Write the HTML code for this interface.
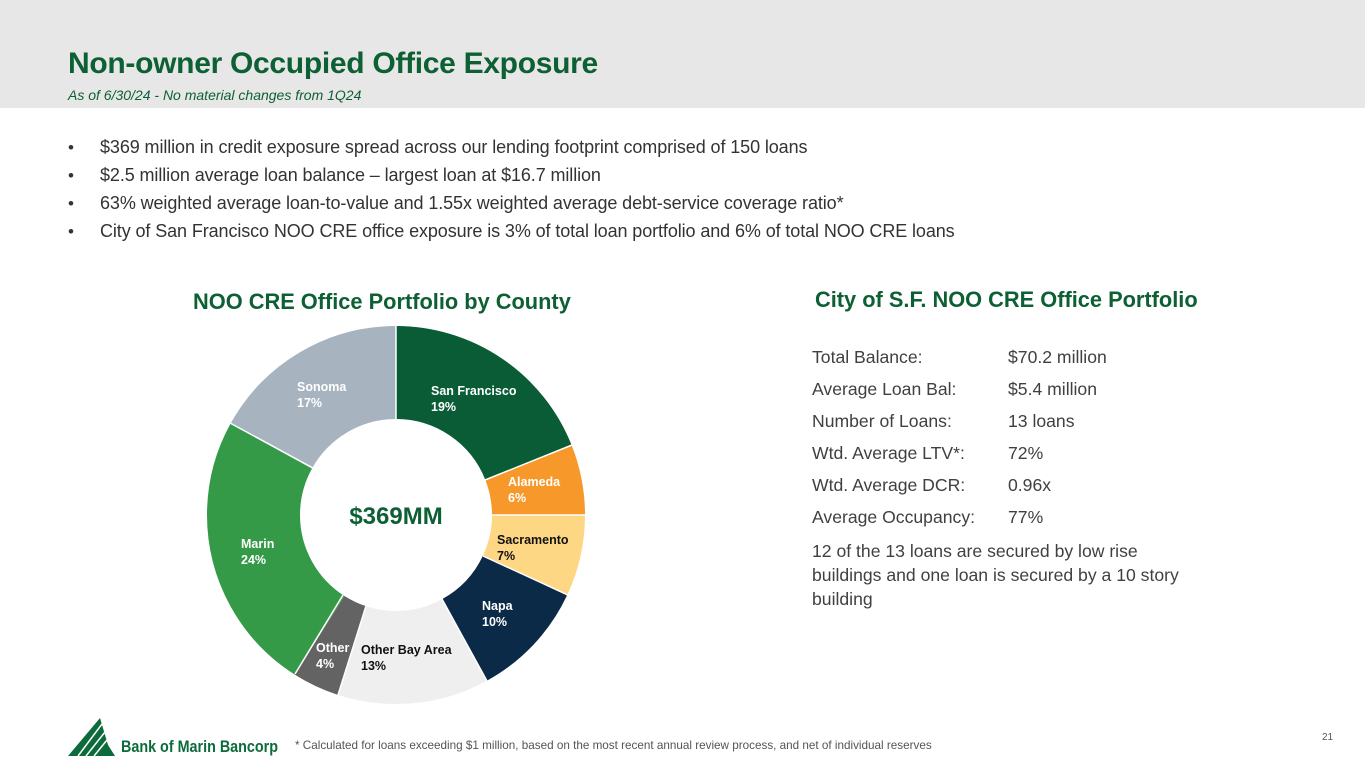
<!DOCTYPE html>
<html><head><meta charset="utf-8"><style>
body{margin:0;width:1365px;height:768px;position:relative;background:#fff;font-family:"Liberation Sans",Calibri,sans-serif;overflow:hidden}
.hdr{position:absolute;left:0;top:0;width:1365px;height:108px;background:#e7e7e7}
.t{position:absolute;left:68px;top:47px;font-size:30px;font-weight:bold;color:#0d5f34;letter-spacing:-0.3px}
.s{position:absolute;left:68px;top:87px;font-size:14px;font-style:italic;color:#0d5f34}
.b{position:absolute;left:68px;font-size:17px;color:#333;white-space:nowrap}
.b span{display:inline-block;width:32px}
.b i{font-style:normal;display:inline-block;font-size:18px;letter-spacing:-0.1px}
.h{position:absolute;font-size:21.8px;font-weight:bold;color:#0d5f34;white-space:nowrap}
.r{position:absolute;left:812px;font-size:17.6px;color:#404040;white-space:nowrap}
.r .v{position:absolute;left:196px;white-space:nowrap}
.lbl{position:absolute;font-size:12.5px;font-weight:bold;line-height:16px;color:#fff}
</style></head><body>
<div class="hdr"></div>
<div class="t">Non-owner Occupied Office Exposure</div>
<div class="s">As of 6/30/24 - No material changes from 1Q24</div>
<div class="b" style="top:137px"><span>•</span><i>$369 million in credit exposure spread across our lending footprint comprised of 150 loans</i></div>
<div class="b" style="top:165px"><span>•</span><i>$2.5 million average loan balance – largest loan at $16.7 million</i></div>
<div class="b" style="top:193px"><span>•</span><i>63% weighted average loan-to-value and 1.55x weighted average debt-service coverage ratio*</i></div>
<div class="b" style="top:221px"><span>•</span><i>City of San Francisco NOO CRE office exposure is 3% of total loan portfolio and 6% of total NOO CRE loans</i></div>
<div class="h" style="left:193px;top:289px">NOO CRE Office Portfolio by County</div>
<div class="h" style="left:815px;top:287px">City of S.F. NOO CRE Office Portfolio</div>
<svg style="position:absolute;left:0;top:0" width="1365" height="768">
<g transform="rotate(-90 396 515)" fill="none" stroke-width="93">
<circle cx="396" cy="515" r="142.5" stroke="#0a5c36" stroke-dasharray="170.1 1000" stroke-dashoffset="0"/>
<circle cx="396" cy="515" r="142.5" stroke="#f7982a" stroke-dasharray="53.7 1000" stroke-dashoffset="-170.1"/>
<circle cx="396" cy="515" r="142.5" stroke="#fdd783" stroke-dasharray="62.7 1000" stroke-dashoffset="-223.8"/>
<circle cx="396" cy="515" r="142.5" stroke="#0b2a47" stroke-dasharray="89.5 1000" stroke-dashoffset="-286.5"/>
<circle cx="396" cy="515" r="142.5" stroke="#efefef" stroke-dasharray="116.4 1000" stroke-dashoffset="-376.0"/>
<circle cx="396" cy="515" r="142.5" stroke="#636363" stroke-dasharray="35.8 1000" stroke-dashoffset="-492.4"/>
<circle cx="396" cy="515" r="142.5" stroke="#359a47" stroke-dasharray="214.9 1000" stroke-dashoffset="-528.2"/>
<circle cx="396" cy="515" r="142.5" stroke="#a7b4c0" stroke-dasharray="152.3 1000" stroke-dashoffset="-743.1"/>
</g>
<g stroke="#fff" stroke-width="1.5">
<line x1="396" y1="419" x2="396" y2="326"/>
<line x1="485" y1="480" x2="572" y2="445"/>
<line x1="492" y1="515" x2="585" y2="515"/>
<line x1="483" y1="556" x2="568" y2="595"/>
<line x1="442" y1="599" x2="487" y2="681"/>
<line x1="366" y1="606" x2="338" y2="695"/>
<line x1="343" y1="595" x2="295" y2="674"/>
<line x1="313" y1="468" x2="230" y2="423"/>
</g>
<text x="396" y="524" text-anchor="middle" font-family="Liberation Sans,sans-serif" font-weight="bold" font-size="24" fill="#0d5f34">$369MM</text>
<polygon points="68,756 100,718 108,745 115,756" fill="#0b6b3a"/>
<g stroke="#fff" stroke-width="1.5"><line x1="78" y1="756" x2="102" y2="724"/><line x1="86" y1="756" x2="105" y2="732"/><line x1="94" y1="756" x2="107" y2="740"/></g>
<text x="121" y="752" font-family="Liberation Sans,sans-serif" font-weight="bold" font-size="17" fill="#0b6b3a" textLength="157" lengthAdjust="spacingAndGlyphs">Bank of Marin Bancorp</text>
</svg>
<div class="lbl" style="left:431px;top:383px">San Francisco<br>19%</div>
<div class="lbl" style="left:508px;top:474px">Alameda<br>6%</div>
<div class="lbl" style="left:497px;top:532px;color:#111">Sacramento<br>7%</div>
<div class="lbl" style="left:482px;top:598px">Napa<br>10%</div>
<div class="lbl" style="left:361px;top:642px;color:#111">Other Bay Area<br>13%</div>
<div class="lbl" style="left:316px;top:640px">Other<br>4%</div>
<div class="lbl" style="left:241px;top:536px">Marin<br>24%</div>
<div class="lbl" style="left:297px;top:379px">Sonoma<br>17%</div>
<div class="r" style="top:347px">Total Balance:<span class="v">$70.2 million</span></div>
<div class="r" style="top:379px">Average Loan Bal:<span class="v">$5.4 million</span></div>
<div class="r" style="top:411px">Number of Loans:<span class="v">13 loans</span></div>
<div class="r" style="top:443px">Wtd. Average LTV*:<span class="v">72%</span></div>
<div class="r" style="top:475px">Wtd. Average DCR:<span class="v">0.96x</span></div>
<div class="r" style="top:507px">Average Occupancy:<span class="v">77%</span></div>
<div class="r" style="top:539px;line-height:24px">12 of the 13 loans are secured by low rise<br>buildings and one loan is secured by a 10 story<br>building</div>
<div style="position:absolute;left:295px;top:739px;font-size:11.7px;color:#555;white-space:nowrap">* Calculated for loans exceeding $1 million, based on the most recent annual review process, and net of individual reserves</div>
<div style="position:absolute;left:1322px;top:732px;font-size:10px;color:#555">21</div>
</body></html>
